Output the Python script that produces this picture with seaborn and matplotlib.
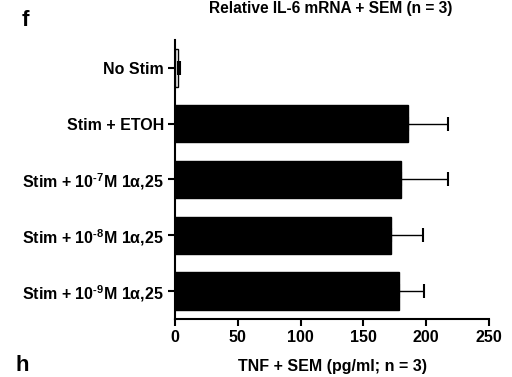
import numpy as np
import pandas as pd
import matplotlib
matplotlib.use("Agg")
import matplotlib.pyplot as plt
import seaborn as sns

# datos
grupos = ["No Stim", "Stim + ETOH",
          r"Stim + 10$^{\mathbf{‐7}}$M 1α,25",
          r"Stim + 10$^{\mathbf{‐8}}$M 1α,25",
          r"Stim + 10$^{\mathbf{‐9}}$M 1α,25"]
tnf = [2.5, 185.5, 179.7, 171.7, 178.7]
sem = [1.5, 32.2, 37.3, 25.4, 19.3]
colores = ["white", "black", "black", "black", "black"]

sns.set_style("ticks")
plt.rcParams["font.family"] = ["Liberation Sans", "DejaVu Sans"]
plt.rcParams["font.weight"] = "bold"
plt.rcParams["text.color"] = "black"
plt.rcParams["axes.labelcolor"] = "black"
plt.rcParams["xtick.color"] = "black"
plt.rcParams["ytick.color"] = "black"
plt.rcParams["mathtext.fontset"] = "custom"
plt.rcParams["mathtext.rm"] = "Liberation Sans:bold"
plt.rcParams["mathtext.bf"] = "Liberation Sans:bold"
plt.rcParams["mathtext.it"] = "Liberation Sans:bold"

df = pd.DataFrame({"grupo": grupos, "tnf": tnf})

fig = plt.figure(figsize=(5.12, 3.77), dpi=100)
ax = fig.add_axes([0.342, 0.154, 0.613, 0.740])

sns.barplot(data=df, x="tnf", y="grupo", hue="grupo", palette=colores,
            legend=False, orient="h", width=0.67, edgecolor="black",
            linewidth=1, ax=ax)
ax.errorbar(tnf, np.arange(len(grupos)), xerr=[np.zeros(len(sem)), sem],
            fmt="none", ecolor="black", elinewidth=1, capsize=5, capthick=1.5)

ax.set_xlim(0, 250)
ax.set_ylim(4.5, -0.5)
ax.set_xticks([0, 50, 100, 150, 200, 250])
ax.set_xlabel("TNF + SEM (pg/ml; n = 3)", fontsize=11.5, fontweight="bold", labelpad=10)
ax.set_ylabel("")
ax.tick_params(axis="both", labelsize=11.5, width=1.5, length=5, pad=3, color="black")
for s in ["left", "bottom"]:
    ax.spines[s].set_linewidth(1.5)
    ax.spines[s].set_color("black")
sns.despine(ax=ax)

fig.text(0.645, 0.998, "Relative IL-6 mRNA + SEM (n = 3)", ha="center", va="top",
         fontsize=11.2, fontweight="bold")
fig.text(0.049, 0.945, "f", fontsize=16, fontweight="bold", ha="center", va="center")
fig.text(0.043, 0.03, "h", fontsize=16, fontweight="bold", ha="center", va="center")

plt.savefig("out.png", dpi=100)
